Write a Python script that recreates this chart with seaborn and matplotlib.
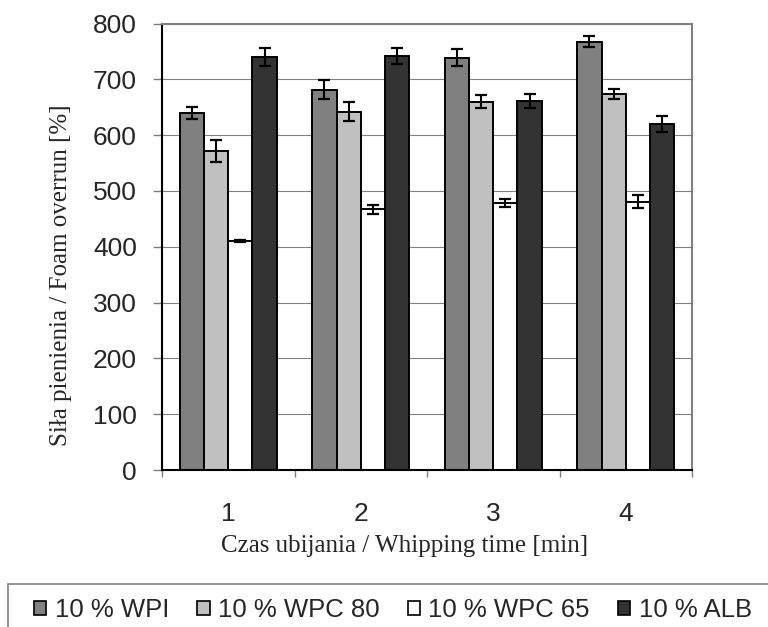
import pandas as pd
import matplotlib
matplotlib.use('Agg')
import matplotlib.pyplot as plt
from matplotlib.patches import Patch, Rectangle
import seaborn as sns

# Data
times = ['1', '2', '3', '4']
series = ['10 % WPI', '10 % WPC 80', '10 % WPC 65', '10 % ALB']
wpi = [640, 681, 739, 767]
wpi_err = [11, 17, 15, 10]
wpc80 = [571, 642, 660, 673]
wpc80_err = [20, 17, 11, 9]
wpc65 = [410, 467, 479, 481]
wpc65_err = [2, 8, 7, 12]
alb = [740, 742, 661, 620]
alb_err = [16, 14, 12, 14]

colors = ['#808080', '#c0c0c0', '#ffffff', '#333333']

values = [wpi, wpc80, wpc65, alb]
errors = [wpi_err, wpc80_err, wpc65_err, alb_err]

rows = []
for name, vals, errs in zip(series, values, errors):
    for t, v, e in zip(times, vals, errs):
        rows.append({'time': t, 'series': name, 'value': v, 'err': e})
df = pd.DataFrame(rows)

sns.set_style('white')
plt.rcParams['font.family'] = ['Liberation Sans', 'DejaVu Sans']

fig = plt.figure(figsize=(7.68, 6.27), dpi=100)
ax = fig.add_axes([162 / 768, 1 - 470 / 627, 530 / 768, 446.5 / 627])

sns.barplot(data=df, x='time', y='value', hue='series', hue_order=series,
            palette=colors, edgecolor='black', linewidth=1.4, width=0.73,
            errorbar=None, legend=False, ax=ax, zorder=2)

# error bars on top of each bar
for container, errs in zip(ax.containers, errors):
    xs = [b.get_x() + b.get_width() / 2 for b in container]
    ys = [b.get_height() for b in container]
    ax.errorbar(xs, ys, yerr=errs, fmt='none', ecolor='black',
                elinewidth=1.5, capsize=4.5, capthick=1.6, zorder=3)

ax.set_ylim(0, 800)
ax.set_yticks(range(0, 801, 100))
ax.set_xlim(-0.5, 3.5)
ax.set_xticks([-0.5, 0.5, 1.5, 2.5, 3.5], minor=True)

ax.yaxis.grid(True, color='#808080', linewidth=0.8)
ax.set_axisbelow(True)

for side in ['top', 'right']:
    ax.spines[side].set_color('#808080')
    ax.spines[side].set_linewidth(1.5)
for side in ['left', 'bottom']:
    ax.spines[side].set_color('black')
    ax.spines[side].set_linewidth(1.5)

ax.tick_params(axis='y', left=True, direction='out', length=6.5, width=1,
               color='#808080', pad=11.5, labelsize=19)
ax.tick_params(axis='x', which='major', bottom=True, length=0, pad=23,
               labelsize=19)
ax.tick_params(axis='x', which='minor', bottom=True, direction='out',
               length=5, width=1, color='#808080')

ax.set_xlabel('Czas ubijania / Whipping time [min]', fontsize=18,
              fontfamily='Liberation Serif')
ax.set_ylabel('Siła pienienia / Foam overrun [%]', fontsize=18,
              fontfamily='Liberation Serif')
ax.xaxis.set_label_coords(0.4585, -0.1456)
ax.yaxis.set_label_coords(-0.17, 0.437)

# legend below the chart
handles = [Patch(facecolor=c, edgecolor='black', linewidth=1.2) for c in colors]
fig.legend(handles, series, loc='center left',
           bbox_to_anchor=(34 / 768, 1 - 610 / 627), frameon=False, ncol=4,
           fontsize=18.5, handlelength=0.48, handleheight=0.48,
           handletextpad=0.32, columnspacing=1.1, borderpad=0,
           borderaxespad=0)
fig.add_artist(Rectangle((8 / 768, -0.05), 1.1, 0.05 + 1 - 584 / 627,
                         transform=fig.transFigure, fill=False,
                         edgecolor='#808080', linewidth=1.2, clip_on=False))

fig.savefig('out.png', dpi=100)
